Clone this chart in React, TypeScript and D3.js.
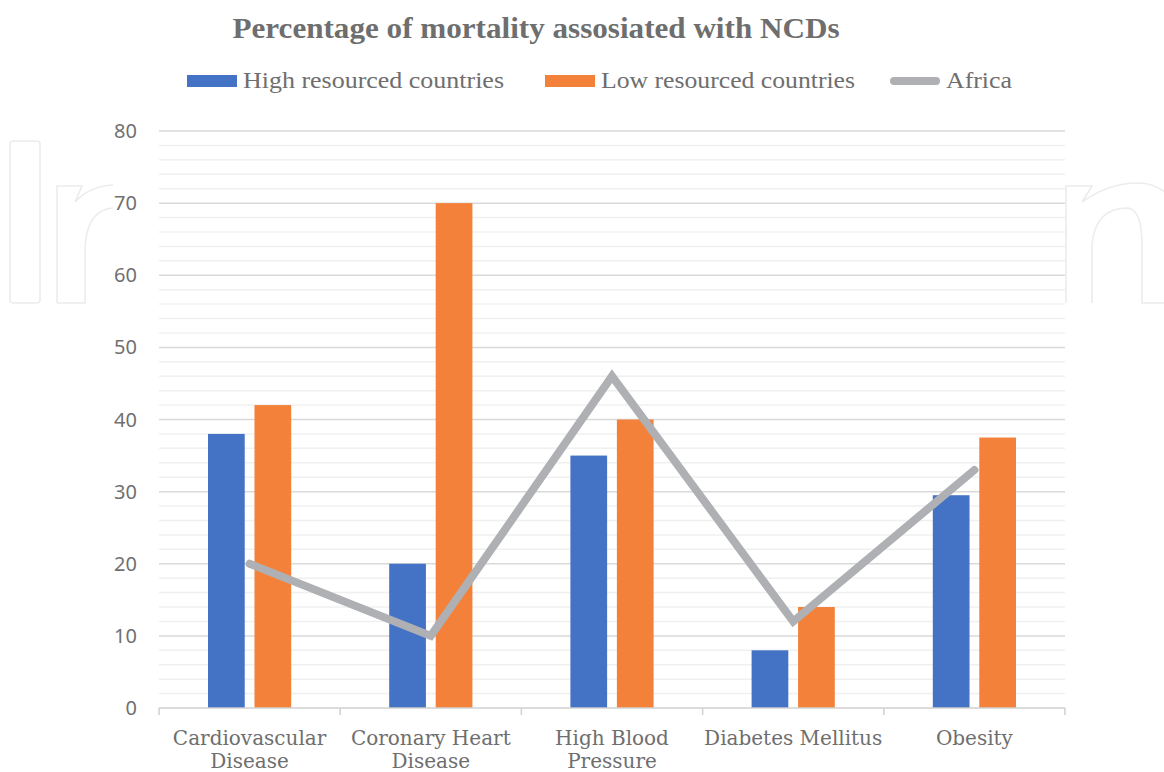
import React from 'react';
import * as d3 from 'd3';

// chart data
const categories = [
  ['Cardiovascular', 'Disease'],
  ['Coronary Heart', 'Disease'],
  ['High Blood', 'Pressure'],
  ['Diabetes Mellitus'],
  ['Obesity'],
];
const highResourced = [38, 20, 35, 8, 29.5];
const lowResourced = [42, 70, 40, 14, 37.5];
const africa = [20, 10, 46, 12, 33];
const yTicks = [0, 10, 20, 30, 40, 50, 60, 70, 80];
const minorTicks = d3.range(0, 81, 2);

const W = 1164;
const H = 772;
const margin = { top: 131, right: 99, bottom: 64, left: 159 };

const BLUE = '#4472C4';
const ORANGE = '#F4813A';
const GREY = '#AEB0B3';
const TEXT = '#6E6E6E';

const App = () => {
  const keys = categories.map((c) => c.join(' '));
  const x0 = d3.scaleBand().domain(keys).range([margin.left, W - margin.right]).padding(0);
  const bw0 = x0.bandwidth();
  const x1 = d3.scaleBand().domain(['high', 'low']).range([49, bw0 - 49]).paddingInner(0.21);
  const y = d3.scaleLinear().domain([0, 80]).range([H - margin.bottom, margin.top]);

  const line = d3.line<number>()
    .x((_, i) => (x0(keys[i]) as number) + bw0 / 2)
    .y((d) => y(d));

  const series = [
    { key: 'high', values: highResourced, color: BLUE },
    { key: 'low', values: lowResourced, color: ORANGE },
  ];

  const boundaries = keys.map((k) => x0(k) as number).concat([W - margin.right]);

  return (
    <svg width={W} height={H} style={{ position: 'absolute', left: 0, top: 0, display: 'block', background: '#fff' }}>
      {/* faint watermark outline behind the chart */}
      <g fill="none" stroke="#ECECEC" strokeWidth={1.6}>
        <rect x={10} y={141} width={30} height={162} rx={3} />
        <path d="M57,303 L57,186 L82,186 L75,202 Q90,186 113,185 M113,208 Q86,210 85,250 L85,303 L57,303" />
        <path d="M1066,303 L1066,186 L1092,186 L1082,202 Q1110,182 1140,183 Q1175,185 1185,230 M1092,303 L1092,245 Q1095,208 1128,208 Q1142,210 1142,245 L1142,303 L1164,303" />
      </g>

      <text x={536} y={38} textAnchor="middle" fontFamily="Liberation Serif" fontWeight="bold" fontSize={29}
        fill={TEXT} textLength={607} lengthAdjust="spacingAndGlyphs">
        Percentage of mortality assosiated with NCDs
      </text>

      {/* legend */}
      <g fontFamily="Liberation Serif" fontSize={23} fill={TEXT}>
        <rect x={187} y={75} width={50} height={12} fill={BLUE} />
        <text x={243} y={88} textLength={261} lengthAdjust="spacingAndGlyphs">High resourced countries</text>
        <rect x={545} y={75} width={50} height={12} fill={ORANGE} />
        <text x={601} y={88} textLength={254} lengthAdjust="spacingAndGlyphs">Low resourced countries</text>
        <line x1={894} x2={936} y1={81} y2={81} stroke={GREY} strokeWidth={8} strokeLinecap="round" />
        <text x={946} y={88} textLength={66} lengthAdjust="spacingAndGlyphs">Africa</text>
      </g>

      {/* gridlines */}
      <g>
        {minorTicks.filter((t) => t % 10 !== 0).map((t) => (
          <line key={'m' + t} x1={margin.left} x2={W - margin.right} y1={y(t)} y2={y(t)} stroke="#F0F0F0" strokeWidth={1.5} />
        ))}
        {yTicks.filter((t) => t !== 0).map((t) => (
          <line key={'g' + t} x1={margin.left} x2={W - margin.right} y1={y(t)} y2={y(t)} stroke="#D9D9D9" strokeWidth={1.5} />
        ))}
      </g>

      {/* y tick labels */}
      <g fontFamily="Noto Sans" fontSize={20} fill="#707070" textAnchor="end">
        {yTicks.map((t) => (
          <text key={t} x={137} y={y(t)} dy="0.35em">{t}</text>
        ))}
      </g>

      {/* bars */}
      {series.map((s) => (
        <g key={s.key} fill={s.color}>
          {s.values.map((v, i) => (
            <rect key={i} x={(x0(keys[i]) as number) + (x1(s.key) as number)} y={y(v)}
              width={x1.bandwidth()} height={y(0) - y(v)} />
          ))}
        </g>
      ))}

      {/* x axis */}
      <line x1={margin.left} x2={W - margin.right} y1={y(0)} y2={y(0)} stroke="#D0D0D0" strokeWidth={1.5} />
      {boundaries.map((b, i) => (
        <line key={i} x1={b} x2={b} y1={y(0)} y2={y(0) + 7} stroke="#D0D0D0" strokeWidth={1.5} />
      ))}

      {/* Africa line */}
      <path d={line(africa) || ''} fill="none" stroke={GREY} strokeWidth={8} strokeLinejoin="miter" strokeLinecap="round" />

      {/* category labels */}
      <g fontFamily="DejaVu Serif" fontSize={20} fill={TEXT} textAnchor="middle">
        {categories.map((c, i) => (
          <text key={i} x={(x0(keys[i]) as number) + bw0 / 2} y={745}>
            {c.map((ln, j) => (
              <tspan key={j} x={(x0(keys[i]) as number) + bw0 / 2} y={745 + j * 23}>{ln}</tspan>
            ))}
          </text>
        ))}
      </g>
    </svg>
  );
};

export default App;
